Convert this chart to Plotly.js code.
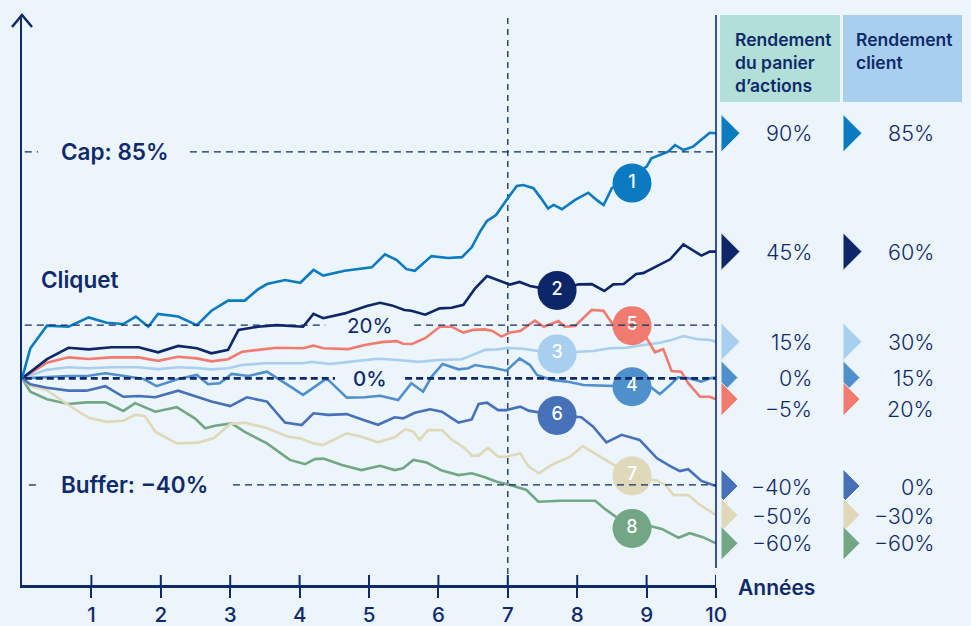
<!DOCTYPE html>
<html>
<head>
<meta charset="utf-8">
<script src="https://cdn.plot.ly/plotly-3.0.1.min.js"></script>
<style>
  html, body { margin: 0; padding: 0; background: #ecf4fc; }
  #chart { width: 971px; height: 626px; }
</style>
</head>
<body>
<div id="chart"></div>
<script>
// ---------- DATA ----------
const scenarioIds = ["1", "2", "3", "4", "5", "6", "7", "8"];

const years1 = [0,0.12,0.36,0.67,0.96,1.22,1.46,1.64,1.82,1.96,2.25,2.52,2.73,2.97,3.21,3.40,3.53,3.79,4.01,4.20,4.34,4.65,5.04,5.23,5.40,5.54,5.66,5.90,6.14,6.34,6.48,6.60,6.70,6.83,7.01,7.13,7.22,7.37,7.49,7.58,7.66,7.78,7.97,8.16,8.28,8.38,8.50,9.00,9.07,9.22,9.31,9.41,9.53,9.67,9.79,9.91,10];
const values1 = [0,11.3,19.8,19.4,22.9,20.9,20.4,23.2,19.4,24.2,23.2,20.0,25.4,29.2,29.2,33.4,35.4,36.9,35.9,40.7,38.6,40.4,41.7,46.6,44.4,41.0,40.4,45.9,45.2,45.5,49.2,55.1,59.1,61.3,68.0,72.2,72.6,71.4,67.2,63.8,65.1,63.5,67.0,69.7,67.0,65.1,71.4,79.5,82.6,84.2,85.1,87.6,85.7,87.0,89.5,92.2,92.0];

const years2 = [0,0.36,0.67,0.96,1.29,1.68,1.96,2.25,2.52,2.73,2.97,3.12,3.40,3.67,4.05,4.20,4.34,4.65,4.97,5.16,5.33,5.51,5.61,5.81,6.02,6.19,6.36,6.53,6.70,6.89,7.03,7.17,7.32,7.54,7.71,8.02,8.21,8.39,8.52,8.67,8.85,8.95,9.15,9.34,9.53,9.67,9.79,9.91,10];
const values2 = [0,7.2,11.5,10.9,11.7,11.7,9.8,12.2,11.3,9.4,10.7,18.2,19.4,20.0,19.4,24.2,22.6,24.4,27.2,28.4,27.4,25.7,25.4,23.9,26.3,26.5,27.6,33.8,38.4,36.6,35.2,36.2,34.7,33.6,32.9,35.3,35.4,32.8,35.3,35.4,39.2,39.5,42.3,44.7,50.3,47.9,46.1,47.6,47.6];

const years3 = [0,0.36,0.67,0.96,1.29,1.68,1.96,2.25,2.52,2.73,2.97,3.17,3.50,4.05,4.17,4.44,4.65,5.13,5.42,5.71,6.00,6.34,6.53,6.67,6.84,7.01,7.22,7.46,7.71,8.02,8.23,8.47,8.71,8.95,9.19,9.36,9.53,9.72,9.91,10];
const values3 = [0,3.2,4.2,3.8,4.2,4.2,3.5,4.2,3.9,3.4,3.8,5.0,5.7,5.7,6.2,5.4,6.0,7.4,6.9,6.2,6.9,7.2,9.2,10.7,10.9,11.4,11.1,10.1,9.2,10.0,10.3,11.3,11.5,12.5,13.4,14.4,15.9,14.8,14.4,13.8];

const years4 = [0,0.36,0.67,0.96,1.20,1.48,1.75,1.94,2.25,2.52,2.68,2.85,3.02,3.26,3.53,3.79,4.05,4.39,4.68,4.94,5.16,5.42,5.61,5.78,5.90,6.06,6.29,6.43,6.53,6.67,6.79,6.98,7.17,7.32,7.42,7.63,7.85,8.09,8.30,8.79,9.05,9.19,9.34,9.45,9.62,9.79,9.91,10];
const values4 = [0,0.6,0.9,1.0,1.9,0.9,-0.2,-2.9,-0.2,1.3,-2.2,-1.8,1.7,0.9,2.5,-1.8,-6.2,0.0,-7.2,-7.1,-6.5,-8.1,-1.8,-5.0,0.6,5.4,3.4,3.8,5.0,4.4,4.0,2.9,7.5,5.0,1.3,-0.6,-1.2,-2.5,-2.7,-3.1,-3.1,-5.9,-2.5,0.4,0.0,-1.2,0.0,0.3];

const years5 = [0,0.36,0.67,0.96,1.29,1.68,1.96,2.25,2.52,2.73,2.97,3.17,3.40,3.67,4.05,4.20,4.34,4.70,4.94,5.18,5.40,5.49,5.62,5.81,6.02,6.19,6.36,6.50,6.67,6.77,6.91,7.03,7.18,7.39,7.52,7.73,7.82,7.97,8.21,8.38,8.52,8.79,9.00,9.12,9.24,9.36,9.50,9.60,9.77,9.91,10];
const values5 = [0,5.9,7.9,7.3,7.9,7.9,6.6,8.1,7.5,6.4,7.2,10.0,10.7,11.5,11.3,12.3,11.3,11.0,12.5,13.6,14.0,13.0,12.9,15.1,19.4,19.4,17.2,18.2,18.4,17.9,15.7,17.2,17.8,21.7,19.4,21.5,19.4,19.7,25.7,25.4,20.0,19.8,15.1,9.8,11.0,2.8,2.5,-1.8,-6.9,-6.9,-7.8];

const years6 = [0,0.12,0.36,0.67,0.93,1.20,1.46,1.68,1.92,2.25,2.52,2.73,3.00,3.24,3.53,3.79,4.03,4.20,4.41,4.68,4.92,5.13,5.37,5.49,5.66,5.88,6.05,6.29,6.48,6.58,6.70,6.86,6.98,7.18,7.30,7.71,8.06,8.23,8.42,8.64,8.90,9.15,9.34,9.48,9.60,9.79,10];
const values6 = [0,-2.2,-3.5,-4.6,-4.6,-2.9,-6.9,-6.6,-7.1,-4.6,-6.9,-8.7,-10.4,-7.1,-8.7,-16.6,-17.5,-13.1,-13.7,-13.4,-15.6,-17.4,-14.6,-15.0,-12.9,-11.6,-12.5,-16.6,-15.4,-9.6,-9.1,-11.9,-11.9,-10.6,-12.1,-13.9,-14.6,-18.1,-24.0,-21.2,-23.1,-30.0,-32.9,-34.8,-34.1,-38.5,-40.4];

const years7 = [0,0.12,0.36,0.67,0.96,1.22,1.46,1.63,1.77,1.92,2.23,2.54,2.76,3.00,3.21,3.50,3.84,4.01,4.20,4.34,4.68,4.89,5.13,5.37,5.52,5.64,5.73,5.85,6.05,6.19,6.38,6.48,6.58,6.67,6.72,6.86,6.98,7.18,7.30,7.45,7.63,7.90,8.08,8.38,8.79,9.15,9.27,9.39,9.60,9.77,10];
const values7 = [0,-2.9,-4.4,-10.0,-14.8,-16.3,-15.9,-13.7,-14.1,-20.0,-24.4,-24.1,-22.5,-17.1,-16.6,-18.4,-21.9,-22.5,-24.4,-25.0,-20.6,-21.9,-24.0,-22.1,-19.1,-20.0,-23.1,-19.4,-19.4,-22.9,-26.2,-29.0,-29.0,-26.9,-26.2,-29.4,-29.4,-28.1,-33.1,-35.6,-32.5,-29.4,-25.4,-30.0,-36.6,-38.4,-40.0,-43.8,-43.8,-47.5,-51.3];

const years8 = [0,0.12,0.36,0.67,0.93,1.20,1.46,1.63,1.92,2.23,2.49,2.64,2.78,3.02,3.21,3.53,3.86,4.08,4.22,4.34,4.61,4.89,5.16,5.37,5.49,5.64,5.83,6.05,6.29,6.48,6.67,6.84,6.98,7.27,7.44,7.76,8.26,8.40,8.79,9.05,9.22,9.46,9.62,9.81,10];
const values8 = [0,-5.0,-7.8,-9.6,-9.0,-9.0,-12.2,-9.3,-12.5,-10.8,-15.0,-18.7,-17.8,-16.9,-20.1,-24.4,-30.6,-32.2,-30.3,-30.1,-32.5,-34.4,-32.8,-34.4,-33.7,-30.6,-31.6,-34.6,-36.3,-35.6,-37.1,-38.8,-39.6,-41.9,-46.3,-45.9,-45.9,-49.0,-56.3,-55.4,-56.5,-59.8,-58.1,-59.6,-61.9];

// numbered badge positions (year, %)
const badgeYears  = [8.79, 7.71, 7.71, 8.79, 8.79, 7.71, 8.79, 8.79];
const badgeValues = [73.3, 33.0, 9.2, -3.1, 19.8, -13.9, -36.6, -56.3];

// table
const headerBasket = "Rendement<br>du panier<br>d’actions";
const headerClient = "Rendement<br>client";
const basketReturns = ["90%", "45%", "15%", "0%", "−5%", "−40%", "−50%", "−60%"];
const clientReturns = ["85%", "60%", "30%", "15%", "20%", "0%", "−30%", "−60%"];

// reference levels
const capLevel = 85;
const bufferLevel = -40;
const cliquetLevel = 20;
const zeroLevel = 0;
const observationYear = 7;
const tickYears = [1, 2, 3, 4, 5, 6, 7, 8, 9, 10];
const tickLabels = ["1", "2", "3", "4", "5", "6", "7", "8", "9", "10"];

// ---------- STYLE ----------
const BG = "#ecf4fc";
const NAVY = "#0f2a6b";
const FONT = "Inter, 'Open Sans', sans-serif";
const colors = ["#0a7bc1", "#0d2668", "#a9cfee", "#4f90cc", "#f07b6e", "#4671b9", "#dfd9b9", "#72a684"];
const triHalf = [19, 19, 19, 17, 17, 17, 17, 17];
const triWidth = [19, 19, 19, 17, 17, 17, 17, 17];
const textShift = [0, 0, 0, 0, -10, -1, -1, 0];

const series = [
  [years1, values1], [years2, values2], [years3, values3], [years4, values4],
  [years5, values5], [years6, values6], [years7, values7], [years8, values8]
];
const drawOrder = [7, 6, 5, 3, 2, 4, 1, 0];

const traces = [];
drawOrder.forEach(i => {
  traces.push({
    x: series[i][0], y: series[i][1], type: "scatter", mode: "lines",
    line: { color: colors[i], width: 2.6 }, hoverinfo: "skip", showlegend: false
  });
});
traces.push({
  x: badgeYears, y: badgeValues, type: "scatter", mode: "markers+text",
  text: scenarioIds, textposition: "middle center",
  textfont: { family: FONT, size: 18, color: "#ffffff", weight: 500 },
  marker: { size: 39, color: colors, line: { width: 0 } },
  hoverinfo: "skip", showlegend: false, cliponaxis: false
});

// ---------- LAYOUT ----------
const L = 22, R = 255, T = 15, B = 41;
const W = 971, H = 626;
const pw = W - L - R;
const ph = H - T - B;
const px2paperX = p => (p - L) / pw;
const px2paperY = p => (H - B - p) / ph;

const shapes = [];
const annotations = [];

function dashed(x0, x1, y, width, dash) {
  shapes.push({ type: "line", xref: "x", yref: "y", x0: x0, x1: x1, y0: y, y1: y,
    line: { color: NAVY, width: width, dash: dash }, layer: "above" });
}
dashed(0.04, 0.23, capLevel, 1.3, "7px,5px");
dashed(2.42, 10, capLevel, 1.3, "7px,5px");
dashed(0.10, 0.23, bufferLevel, 1.3, "7px,5px");
dashed(3.04, 10, bufferLevel, 1.3, "7px,5px");
dashed(0.04, 4.37, cliquetLevel, 1.3, "7px,5px");
dashed(5.65, 10, cliquetLevel, 1.3, "7px,5px");
dashed(0.04, 4.51, zeroLevel, 2.8, "7px,4px");
dashed(5.52, 10, zeroLevel, 2.8, "7px,4px");

shapes.push({ type: "line", xref: "x", yref: "paper", x0: observationYear, x1: observationYear,
  y0: 0, y1: 1, line: { color: NAVY, width: 1.3, dash: "6px,5px" }, layer: "below" });

shapes.push({ type: "line", xref: "paper", yref: "paper", x0: 1, x1: 1,
  y0: px2paperY(568), y1: 1, line: { color: NAVY, width: 1.6 } });

shapes.push({ type: "path", xref: "paper", yref: "paper", xsizemode: "pixel", ysizemode: "pixel",
  xanchor: 0, yanchor: 1, path: "M -10,-12 L 0,0 L 10,-12",
  line: { color: NAVY, width: 2.5 } });

tickYears.forEach(t => {
  shapes.push({ type: "line", xref: "x", yref: "paper", ysizemode: "pixel", yanchor: 0,
    x0: t, x1: t, y0: 0, y1: 10, line: { color: NAVY, width: 2 } });
});

shapes.push({ type: "rect", xref: "paper", yref: "paper", x0: px2paperX(720), x1: px2paperX(840),
  y0: px2paperY(102), y1: 1, fillcolor: "#b3dfd9", line: { width: 0 } });
shapes.push({ type: "rect", xref: "paper", yref: "paper", x0: px2paperX(843), x1: px2paperX(962),
  y0: px2paperY(102), y1: 1, fillcolor: "#a9cfee", line: { width: 0 } });

annotations.push({ xref: "paper", yref: "paper", x: px2paperX(733), y: px2paperY(62),
  xanchor: "left", yanchor: "middle", align: "left", showarrow: false, text: headerBasket,
  font: { family: FONT, size: 17.5, color: NAVY, weight: 600 } });
annotations.push({ xref: "paper", yref: "paper", x: px2paperX(854), y: px2paperY(51),
  xanchor: "left", yanchor: "middle", align: "left", showarrow: false, text: headerClient,
  font: { family: FONT, size: 17.5, color: NAVY, weight: 600 } });

series.forEach((s, i) => {
  const endVal = s[1][s[1].length - 1];
  const h = triHalf[i], w = triWidth[i];
  [5, 127].forEach(off => {
    shapes.push({ type: "path", xref: "paper", yref: "y", xsizemode: "pixel", ysizemode: "pixel",
      xanchor: 1, yanchor: endVal,
      path: `M ${off},${-h} L ${off + w},0 L ${off},${h} Z`,
      fillcolor: colors[i], line: { color: BG, width: 1 } });
  });
  annotations.push({ xref: "paper", yref: "y", x: px2paperX(814), y: endVal, yshift: textShift[i],
    xanchor: "right", yanchor: "middle", showarrow: false, text: basketReturns[i],
    font: { family: FONT, size: 21.5, color: NAVY, weight: 300 } });
  annotations.push({ xref: "paper", yref: "y", x: px2paperX(936), y: endVal, yshift: textShift[i],
    xanchor: "right", yanchor: "middle", showarrow: false, text: clientReturns[i],
    font: { family: FONT, size: 21.5, color: NAVY, weight: 300 } });
});

function label(text, x, y, anchor, size, weight) {
  annotations.push({ xref: "x", yref: "y", x: x, y: y, xanchor: anchor, yanchor: "middle",
    showarrow: false, text: text, font: { family: FONT, size: size, color: NAVY, weight: weight } });
}
label("Cap: 85%", 0.53, capLevel, "left", 22.5, 600);
label("Buffer: −40%", 0.53, bufferLevel, "left", 22.5, 600);
label("Cliquet", 0.25, 37.3, "left", 22.5, 600);
label("20%", 5.01, cliquetLevel, "center", 20.5, 400);
label("0%", 5.01, zeroLevel, "center", 20.5, 500);

annotations.push({ xref: "paper", yref: "paper", x: px2paperX(736), y: px2paperY(587),
  xanchor: "left", yanchor: "middle", showarrow: false, text: "Années",
  font: { family: FONT, size: 21, color: NAVY, weight: 600 } });

const layout = {
  width: W, height: H,
  margin: { l: L, r: R, t: T, b: B, pad: 0 },
  paper_bgcolor: BG, plot_bgcolor: BG,
  showlegend: false,
  xaxis: {
    range: [0, 10], showgrid: false, zeroline: false,
    showline: true, linecolor: NAVY, linewidth: 2.5,
    tickmode: "array", tickvals: tickYears, ticktext: tickLabels,
    ticks: "outside", ticklen: 10, tickwidth: 2, tickcolor: NAVY,
    tickfont: { family: FONT, size: 20.5, color: NAVY, weight: 500 },
    fixedrange: true
  },
  yaxis: {
    range: [-77.55, 136.4], showgrid: false, zeroline: false,
    showline: true, linecolor: NAVY, linewidth: 2.5,
    showticklabels: false, ticks: "", fixedrange: true
  },
  shapes: shapes,
  annotations: annotations
};

Plotly.newPlot("chart", traces, layout, { displayModeBar: false, staticPlot: true });
</script>
</body>
</html>
